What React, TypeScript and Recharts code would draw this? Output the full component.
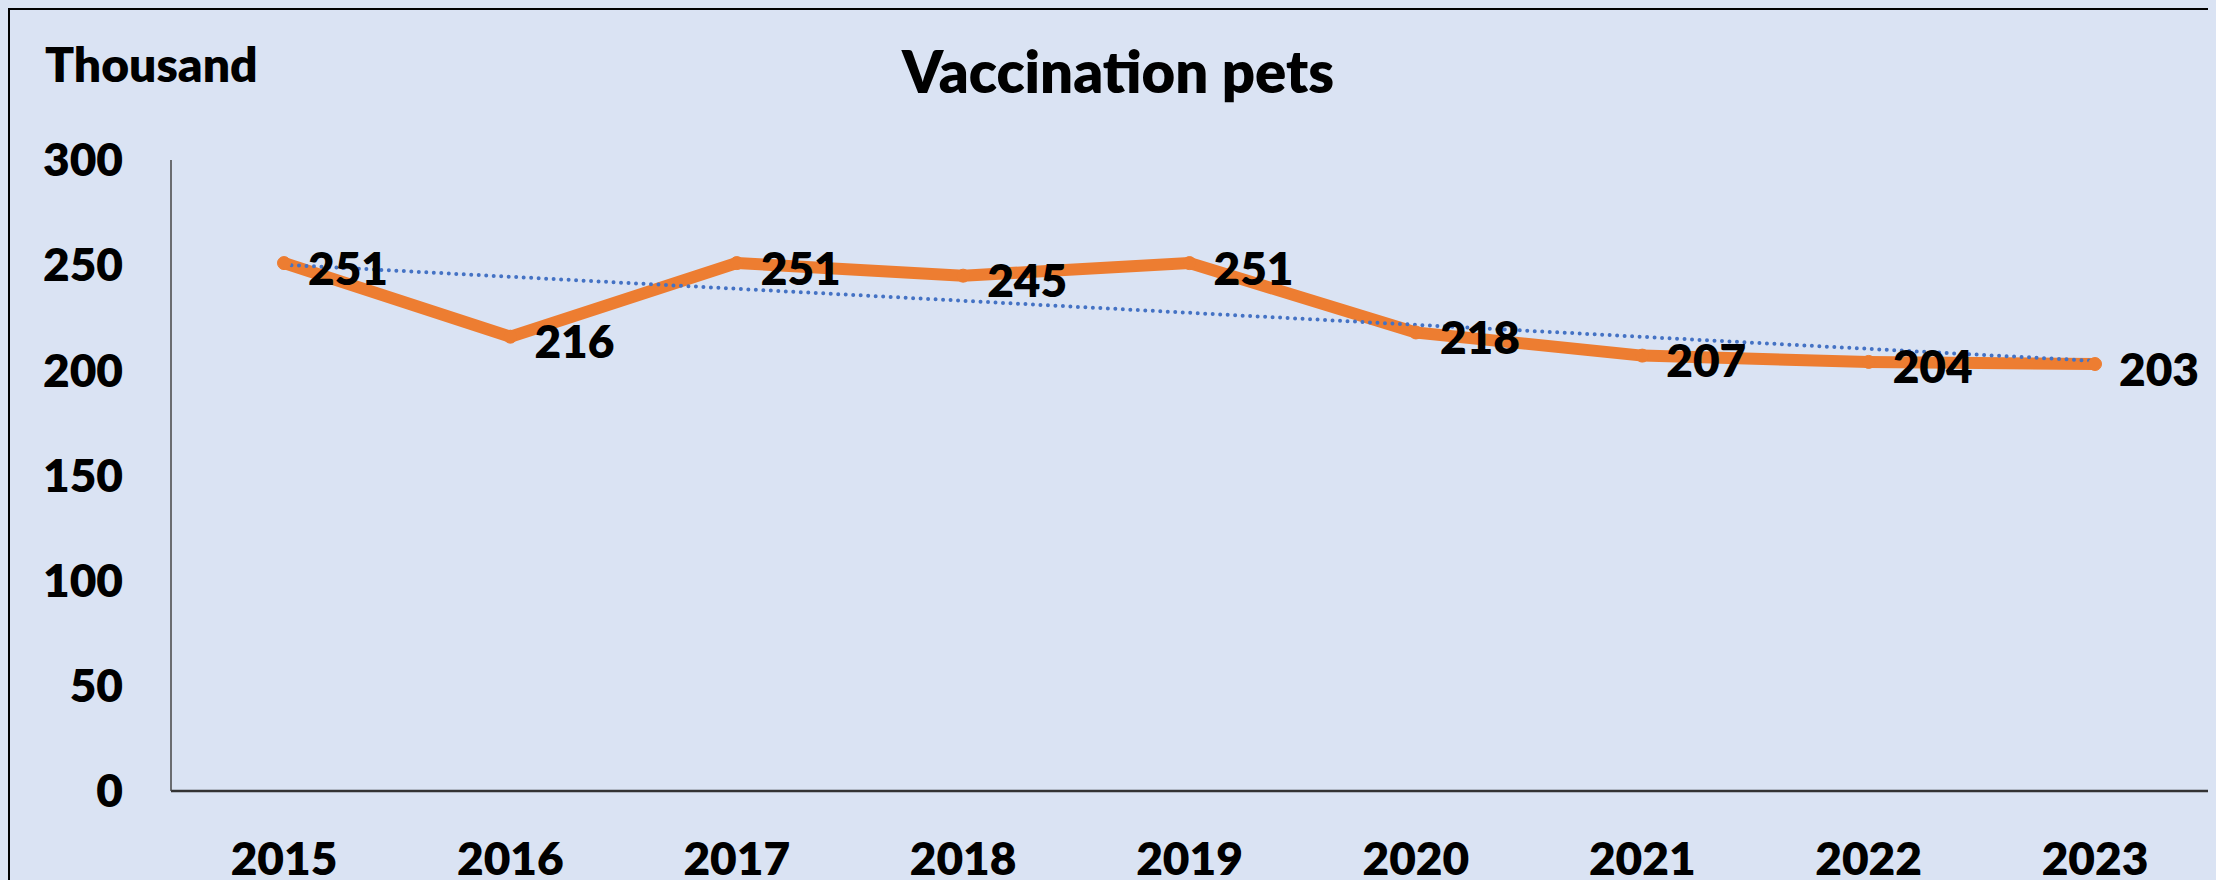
import { LabelList, Line, LineChart, XAxis, YAxis } from 'recharts'

// vaccinated pets per year, thousands
const years = ['2015', '2016', '2017', '2018', '2019', '2020', '2021', '2022', '2023']
const vaccinated = [251, 216, 251, 245, 251, 218, 207, 204, 203]
// linear trendline endpoints
const trend = [250.2, null, null, null, null, null, null, null, 204.5]
const yTicks = [0, 50, 100, 150, 200, 250, 300]

const rows = years.map((year, i) => ({
  year,
  value: vaccinated[i],
  trend: trend[i],
}))

const FONT = 'Lato, "Open Sans", sans-serif'
const BG = '#DAE3F3'
const WEIGHT = 800

function ValueLabel(props: any) {
  const { x, y, value } = props
  return (
    <text
      x={x + 24}
      y={y + 4}
      dominantBaseline="central"
      textAnchor="start"
      fontFamily={FONT}
      fontWeight={WEIGHT}
      fontSize={46}
      fill="#000"
    >
      {value}
    </text>
  )
}

export default function App() {
  const tickStyle = { fontFamily: FONT, fontWeight: WEIGHT, fontSize: 46, fill: '#000' }

  return (
    <>
      <style>{`html,body{overflow:hidden;background:${BG};}`}</style>
      <div
        style={{
          position: 'relative',
          width: 2200,
          height: 870,
          borderTop: '2px solid #000',
          borderLeft: '2px solid #000',
          borderRight: '2px solid #000',
          background: BG,
        }}
      >
        <div
          style={{
            position: 'absolute',
            left: 8,
            width: 2200,
            top: 61,
            transform: 'translateY(-50%)',
            textAlign: 'center',
            fontFamily: FONT,
            fontWeight: WEIGHT,
            fontSize: 58,
            lineHeight: 1,
          }}
        >
          Vaccination pets
        </div>
        <div
          style={{
            position: 'absolute',
            left: 35,
            top: 54,
            transform: 'translateY(-50%)',
            fontFamily: FONT,
            fontWeight: WEIGHT,
            fontSize: 48,
            lineHeight: 1,
          }}
        >
          Thousand
        </div>
        <LineChart
          width={2200}
          height={870}
          data={rows}
          margin={{ top: 150, right: 2, bottom: 0, left: 0 }}
        >
          <XAxis
            dataKey="year"
            height={89}
            padding={{ left: 113, right: 113 }}
            tickLine={false}
            tickSize={0}
            tickMargin={51}
            axisLine={{ stroke: '#333', strokeWidth: 2.5 }}
            tick={tickStyle}
            interval={0}
          />
          <YAxis
            width={161}
            domain={[0, 300]}
            ticks={yTicks}
            tickLine={false}
            tickSize={0}
            tickMargin={48}
            axisLine={{ stroke: '#444', strokeWidth: 1.5 }}
            tick={tickStyle}
            interval={0}
          />
          <Line
            type="linear"
            dataKey="value"
            stroke="#ED7D31"
            strokeWidth={12}
            strokeLinejoin="round"
            dot={{ r: 6.5, fill: '#ED7D31', stroke: '#ED7D31', strokeWidth: 1 }}
            activeDot={false}
            isAnimationActive={false}
          />
          <Line
            type="linear"
            dataKey="trend"
            connectNulls
            stroke="#4472C4"
            strokeWidth={4}
            strokeDasharray="0 7.5"
            strokeLinecap="round"
            dot={false}
            activeDot={false}
            isAnimationActive={false}
          />
          <Line
            type="linear"
            dataKey="value"
            stroke="none"
            dot={false}
            activeDot={false}
            isAnimationActive={false}
          >
            <LabelList dataKey="value" content={<ValueLabel />} />
          </Line>
        </LineChart>
      </div>
    </>
  )
}
